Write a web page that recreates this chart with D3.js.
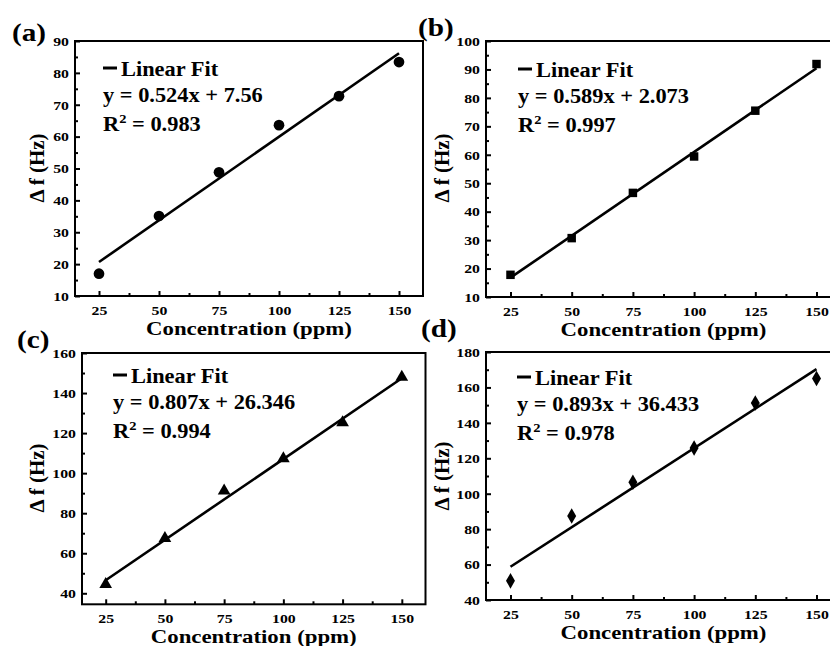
<!DOCTYPE html>
<html><head><meta charset="utf-8">
<script src="https://cdn.jsdelivr.net/npm/d3@7"></script>
<style>
body{margin:0;background:#fff;}
svg{display:block;}
</style></head>
<body>
<svg id="chart" width="830" height="646"></svg>
<script>
// ---- data ----
const concentration = [25, 50, 75, 100, 125, 150];
const dfA = [17.0, 35.1, 48.8, 63.6, 72.7, 83.4];
const dfB = [17.8, 30.7, 46.6, 59.4, 75.5, 91.9];
const dfC = [44.5, 67.5, 91.2, 107.3, 125.3, 148.0];
const dfD = [50.8, 87.4, 106.5, 125.8, 151.2, 165.0];
const panelLabels = ["(a)", "(b)", "(c)", "(d)"];
const slopes = [0.524, 0.589, 0.807, 0.893];
const intercepts = [7.56, 2.073, 26.346, 36.433];
const eqTexts = ["y = 0.524x + 7.56", "y = 0.589x + 2.073", "y = 0.807x + 26.346", "y = 0.893x + 36.433"];
const r2Texts = ["0.983", "0.997", "0.994", "0.978"];
const xTicks = [25, 50, 75, 100, 125, 150];
const yTicksA = [10, 20, 30, 40, 50, 60, 70, 80, 90];
const yTicksB = [10, 20, 30, 40, 50, 60, 70, 80, 90, 100];
const yTicksC = [40, 60, 80, 100, 120, 140, 160];
const yTicksD = [40, 60, 80, 100, 120, 140, 160, 180];
const xTitle = "Concentration (ppm)";
const yTitle = "\u0394 f (Hz)";
const legendText = "Linear Fit";

// ---- layout ----
const SX = 1.17;
const SXL = 1.12;
const FONT = '"Liberation Serif","Times New Roman",serif';
const panels = [
  {data: dfA, yTicks: yTicksA, yDom: [10, 90], yMinor: 5, box: {l: 75, r: 423, t: 41, b: 296}, marker: "circle",
   lab: [12, 41], leg: {x: 103, y: 76}, yt: [38, 168]},
  {data: dfB, yTicks: yTicksB, yDom: [10, 100], yMinor: 5, box: {l: 486, r: 841, t: 41, b: 297}, marker: "square",
   lab: [418, 36], leg: {x: 518, y: 77}, yt: [443, 168]},
  {data: dfC, yTicks: yTicksC, yDom: [34.5, 160], yMinor: 10, box: {l: 82, r: 425.5, t: 353, b: 604.3}, marker: "triangle",
   lab: [17, 348], leg: {x: 113, y: 383}, yt: [38, 478]},
  {data: dfD, yTicks: yTicksD, yDom: [40, 180], yMinor: 10, box: {l: 486, r: 841, t: 352, b: 600}, marker: "diamond",
   lab: [421, 337], leg: {x: 517, y: 385}, yt: [443, 476]}
];

const svg = d3.select("#chart");
svg.append("rect").attr("width", 830).attr("height", 646).attr("fill", "#fff");

function stext(g, x, y, str, size, anchor, sx) {
  return g.append("text")
    .attr("transform", `translate(${x},${y}) scale(${sx || SX},1)`)
    .attr("text-anchor", anchor || "start")
    .attr("font-family", FONT).attr("font-weight", "bold").attr("fill", "#000")
    .style("font-size", size + "px")
    .text(str);
}

panels.forEach((p, i) => {
  const g = svg.append("g");
  const x = d3.scaleLinear().domain([15, 160]).range([p.box.l, p.box.r]);
  const y = d3.scaleLinear().domain(p.yDom).range([p.box.b, p.box.t]);

  // minor ticks
  const xMinor = d3.range(12.5, 160, 12.5).filter(v => v >= 15 && xTicks.indexOf(v) < 0);
  g.append("g").attr("transform", `translate(0,${p.box.b})`)
    .call(d3.axisBottom(x).tickValues(xMinor).tickSize(-3).tickFormat(""))
    .call(a => a.select(".domain").remove())
    .selectAll("line").attr("stroke", "#000").attr("stroke-width", 2);
  const yMinorVals = d3.range(p.yDom[0] - (p.yDom[0] % p.yMinor), p.yDom[1], p.yMinor)
    .filter(v => v > p.yDom[0] && p.yTicks.indexOf(v) < 0);
  g.append("g").attr("transform", `translate(${p.box.l},0)`)
    .call(d3.axisLeft(y).tickValues(yMinorVals).tickSize(-3).tickFormat(""))
    .call(a => a.select(".domain").remove())
    .selectAll("line").attr("stroke", "#000").attr("stroke-width", 2);

  // major x axis
  const xa = g.append("g").attr("transform", `translate(0,${p.box.b})`)
    .call(d3.axisBottom(x).tickValues(xTicks).tickSize(-5).tickPadding(9).tickFormat(d3.format("d")));
  xa.attr("font-family", FONT).attr("font-weight", "bold");
  xa.select(".domain").remove();
  xa.selectAll("line").attr("stroke", "#000").attr("stroke-width", 2);
  xa.selectAll("text").attr("fill", "#000").style("font-size", "13.5px")
    .attr("transform", `scale(${SX},1)`);

  // major y axis
  const ya = g.append("g").attr("transform", `translate(${p.box.l},0)`)
    .call(d3.axisLeft(y).tickValues(p.yTicks).tickSize(-5).tickPadding(6).tickFormat(d3.format("d")));
  ya.attr("font-family", FONT).attr("font-weight", "bold");
  ya.select(".domain").remove();
  ya.selectAll("line").attr("stroke", "#000").attr("stroke-width", 2);
  ya.selectAll("text").attr("fill", "#000").style("font-size", "13.5px")
    .attr("x", -6 / SX).attr("transform", `scale(${SX},1)`);

  // frame
  g.append("rect").attr("x", p.box.l).attr("y", p.box.t)
    .attr("width", p.box.r - p.box.l).attr("height", p.box.b - p.box.t)
    .attr("fill", "none").attr("stroke", "#000").attr("stroke-width", 2);

  // fit line
  const fit = [25, 150].map(c => [c, slopes[i] * c + intercepts[i]]);
  g.append("path").datum(fit)
    .attr("d", d3.line().x(d => x(d[0])).y(d => y(d[1])))
    .attr("stroke", "#000").attr("stroke-width", 2.6).attr("fill", "none");

  // markers
  const symType = {circle: d3.symbolCircle, square: d3.symbolSquare, triangle: d3.symbolTriangle, diamond: d3.symbolDiamond}[p.marker];
  const symSize = {circle: 90, square: 72, triangle: 70, diamond: 70}[p.marker];
  g.selectAll(".pt").data(p.data).join("path")
    .attr("transform", (d, k) => `translate(${x(concentration[k])},${y(d)})`)
    .attr("d", d3.symbol().type(symType).size(symSize))
    .attr("fill", "#000");

  // legend
  g.append("line").attr("x1", p.leg.x).attr("x2", p.leg.x + 14)
    .attr("y1", p.leg.y - 8).attr("y2", p.leg.y - 8)
    .attr("stroke", "#000").attr("stroke-width", 3);
  stext(g, p.leg.x + 18, p.leg.y, legendText, 20, "start", SXL);
  stext(g, p.leg.x, p.leg.y + 26, eqTexts[i], 20, "start", SXL);
  const r2 = stext(g, p.leg.x, p.leg.y + 55, "R", 20, "start", SXL);
  r2.append("tspan").attr("dy", -8).style("font-size", "13px").text("2");
  r2.append("tspan").attr("dy", 8).text(" = " + r2Texts[i]);

  // axis titles
  stext(g, (p.box.l + p.box.r) / 2, p.box.b + 39, xTitle, 19.5, "middle");
  g.append("text")
    .attr("transform", `translate(${p.yt[0] + 6},${p.yt[1]}) rotate(-90) scale(1.1,1.05)`)
    .attr("font-family", FONT).attr("font-weight", "bold").attr("fill", "#000")
    .attr("text-anchor", "middle").style("font-size", "19px").text(yTitle);

  // panel label
  stext(g, p.lab[0], p.lab[1], panelLabels[i], 25);
});
</script>
</body></html>
